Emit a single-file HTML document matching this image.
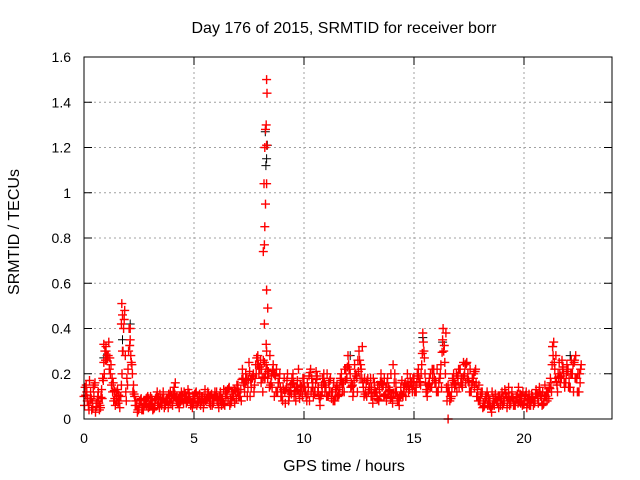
<!DOCTYPE html>
<html><head><meta charset="utf-8"><style>
html,body{margin:0;padding:0;background:#fff;}
svg{display:block;font-family:"Liberation Sans",Arial,sans-serif;}
</style></head><body>
<svg id="chart" width="640" height="480" viewBox="0 0 640 480">
<g id="grid"></g>
<g id="axes"></g>
<g id="pts"></g>
<rect x="84" y="57" width="528" height="362" fill="none" stroke="#000" stroke-width="1"/>
<text x="344" y="33" text-anchor="middle" font-size="16">Day 176 of 2015, SRMTID for receiver borr</text>
<text x="344" y="471" text-anchor="middle" font-size="16">GPS time / hours</text>
<text transform="translate(19,232) rotate(-90)" text-anchor="middle" font-size="16">SRMTID / TECUs</text>
</svg>
<script>
const xTicks=[0,5,10,15,20];
const yTicks=[0,0.2,0.4,0.6,0.8,1,1.2,1.4,1.6];
const yTickLabels=["0","0.2","0.4","0.6","0.8","1","1.2","1.4","1.6"];
const redA=[.10,.15,.06,.12,.05,.16,.08,.04,.13,.25,
.32,.28,.20,.12,.09,.10,.08,.15,.40,.12,
.22,.35,.20,.10,.06,.05,.09,.04,.07,.10,
.06,.08,.05,.10,.07,.09,.12,.06,.08,.10,
.09,.14,.08,.07,.10,.09,.11,.08,.10,.07,
.09,.12,.08,.06,.10,.13,.09,.07,.11,.08,
.10,.07,.12,.09,.06,.11,.14,.08,.10,.12,
.15,.10,.22,.12,.18,.25,.14,.20,.24,.28,
.22,.18,.25,.30,.20,.16,.24,.19,.12,.20,
.10,.18,.14,.08,.15,.20,.12,.17,.09,.14,
.18,.10,.14,.22,.16,.12,.19,.09,.15,.20,
.14,.10,.18,.12,.08,.15,.11,.20,.16,.22,
.28,.20,.15,.24,.18,.30,.22,.14,.12,.18,
.14,.10,.16,.12,.08,.20,.15,.11,.18,.13,
.10,.16,.12,.08,.14,.10,.16,.20,.13,.15,
.18,.12,.22,.15,.38,.20,.10,.18,.14,.22,
.16,.12,.20,.35,.25,.08,.12,.10,.20,.15,
.18,.22,.14,.20,.25,.16,.12,.18,.22,.10,
.08,.12,.06,.10,.08,.05,.09,.11,.07,.10,
.12,.08,.10,.14,.07,.09,.06,.11,.08,.10,
.07,.12,.09,.06,.10,.08,.11,.14,.09,.07,
.10,.12,.18,.32,.22,.15,.25,.18,.20,.16,
.22,.14,.20,.26,.18,.12,.24];
const redB=[.14,.08,.17,.04,.10,.07,.12,.05,.18,.30,
.28,.22,.15,.08,.12,.07,.10,.30,.48,.18,
.40,.25,.15,.08,.04,.07,.05,.08,.06,.09,
.08,.05,.09,.06,.11,.07,.05,.09,.11,.07,
.12,.16,.07,.10,.08,.12,.07,.09,.06,.10,
.07,.10,.11,.08,.07,.09,.11,.06,.09,.12,
.08,.10,.06,.13,.10,.08,.09,.12,.07,.15,
.12,.08,.16,.20,.14,.10,.18,.15,.27,.20,
.16,.26,.20,.18,.28,.14,.10,.22,.16,.10,
.14,.07,.20,.12,.18,.10,.14,.22,.12,.18,
.12,.16,.08,.18,.12,.21,.14,.10,.18,.12,
.20,.12,.09,.16,.10,.13,.18,.12,.22,.18,
.22,.16,.12,.20,.26,.18,.32,.18,.10,.14,
.10,.18,.12,.15,.10,.14,.18,.08,.14,.20,
.24,.12,.08,.10,.17,.12,.14,.12,.16,.18,
.14,.20,.16,.24,.30,.12,.15,.20,.18,.16,
.22,.18,.14,.30,.38,.15,.10,.18,.14,.12,
.14,.18,.25,.16,.20,.22,.18,.14,.10,.15,
.12,.07,.10,.06,.09,.12,.06,.08,.05,.08,
.09,.11,.07,.06,.12,.08,.10,.14,.07,.12,
.10,.08,.06,.11,.08,.13,.07,.10,.12,.15,
.08,.14,.12,.34,.28,.20,.16,.22,.14,.24,
.18,.26,.12,.28,.20,.16];
const redC=[.06,.12,.04,.09,.14,.03,.10,.06,.09,.20,
.26,.34,.24,.16,.06,.13,.05,.20,.44,.08,
.30,.28,.12,.06,.03,.08,.04,.06,.09,.05,
.10,.04,.07,.12,.05,.06,.09,.08,.05,.12,
.06,.11,.10,.05,.12,.07,.09,.13,.08,.05,
.11,.06,.09,.10,.05,.08,.12,.10,.06,.10,
.12,.05,.09,.07,.11,.13,.06,.10,.13,.09,
.10,.13,.18,.16,.10,.21,.18,.12,.20,.24,
.26,.12,.18,.22,.14,.19,.20,.12,.16,.14,
.08,.12,.17,.10,.11,.16,.08,.13,.15,.10,
.14,.08,.19,.12,.10,.16,.12,.06,.12,.16,
.10,.16,.12,.08,.13,.10,.14,.16,.12,.18,
.24,.14,.10,.20,.12,.26,.18,.10,.16,.12,
.18,.07,.12,.09,.13,.16,.10,.14,.12,.09,
.07,.20,.10,.06,.11,.14,.10,.16,.18,.12,
.12,.16,.18,.20,.34,.16,.13,.14,.22,.18,
.12,.16,.24,.40,.20,.12,.08,.14,.16,.20,
.22,.16,.18,.24,.18,.12,.15,.20,.16,.08,
.10,.05,.08,.12,.06,.03,.07,.09,.10,.06,
.06,.13,.05,.09,.10,.06,.08,.07,.11,.06,
.09,.05,.11,.08,.06,.11,.09,.12,.06,.10,
.12,.09,.16,.28,.18,.12,.20,.26,.16,.20,
.14,.20,.24,.18,.12,.20];
const extraTimes=[8.15,8.2,8.22,8.25,8.18,8.3,8.22,8.3,8.25,8.28,8.32,8.3,8.3,8.35,8.2,8.28,16.55,1.72,1.75,1.7,2.1,0.9,1.0];
const extraValues=[.74,.77,.85,.95,1.04,1.04,1.2,1.21,1.28,1.3,1.44,1.5,.57,.49,.42,.33,0,.51,.46,.42,.40,.33,.30];
const blackTimes=[8.24,8.27,8.3,8.33,2.1,1.75,12.1,15.4,16.3,21.3,22.1,0.9];
const blackValues=[1.27,1.12,1.15,1.21,.42,.35,.28,.36,.34,.32,.28,.27];

const NS="http://www.w3.org/2000/svg";
const X0=84,X1=612,Y0=419,Y1=57;
function xs(v){return X0+(v/24)*(X1-X0);}
function ys(v){return Y0-(v/1.6)*(Y0-Y1);}
const grid=document.getElementById('grid'),axes=document.getElementById('axes'),pts=document.getElementById('pts');
function mk(tag,attrs,parent){const e=document.createElementNS(NS,tag);for(const k in attrs)e.setAttribute(k,attrs[k]);parent.appendChild(e);return e;}
yTicks.forEach((v,i)=>{
  const y=ys(v);
  if(i>0&&i<yTicks.length-1){const g=mk('line',{x1:X0,x2:X1,y1:y,y2:y,stroke:'#a0a0a0','stroke-dasharray':'2,3'},grid);
  
  }
  mk('line',{x1:X0,x2:X0+8,y1:y,y2:y,stroke:'#000'},axes);
  mk('line',{x1:X1-8,x2:X1,y1:y,y2:y,stroke:'#000'},axes);
  const t=mk('text',{x:X0-13,y:y+5,'text-anchor':'end','font-size':'14'},axes);
  t.textContent=yTickLabels[i];
  
  
});
xTicks.forEach(v=>{
  const x=xs(v);
  if(v>0){const g=mk('line',{x1:x,x2:x,y1:Y0,y2:Y1,stroke:'#a0a0a0','stroke-dasharray':'2,3'},grid);
  
  }
  mk('line',{x1:x,x2:x,y1:Y0,y2:Y0-8,stroke:'#000'},axes);
  mk('line',{x1:x,x2:x,y1:Y1,y2:Y1+8,stroke:'#000'},axes);
  const t=mk('text',{x:x,y:Y0+24,'text-anchor':'middle','font-size':'14'},axes);
  t.textContent=String(v);
  
  
});
let dBlack='',dRed='';
function plus(t,v){const x=xs(t),y=ys(v);return `M${(x-4.5).toFixed(1)} ${y.toFixed(1)}h9M${x.toFixed(1)} ${(y-4.5).toFixed(1)}v9`;}
blackTimes.forEach((t,i)=>{dBlack+=plus(t,blackValues[i]);});
redA.forEach((v,i)=>{dRed+=plus(i*0.1,v);});
redB.forEach((v,i)=>{dRed+=plus(i*0.1+0.05,v);});
redC.forEach((v,i)=>{dRed+=plus(i*0.1+0.025,v);});
redC.forEach((v,i)=>{dRed+=plus(i*0.1+0.075,(v+redA[Math.min(i+1,redA.length-1)])/2);});
extraTimes.forEach((t,i)=>{dRed+=plus(t,extraValues[i]);});
const pb=mk('path',{d:dBlack,stroke:'#000','stroke-width':'1',fill:'none'},pts);


const pr=mk('path',{d:dRed,stroke:'#ff0000','stroke-width':'1.4',fill:'none'},pts);


</script>
</body></html>
